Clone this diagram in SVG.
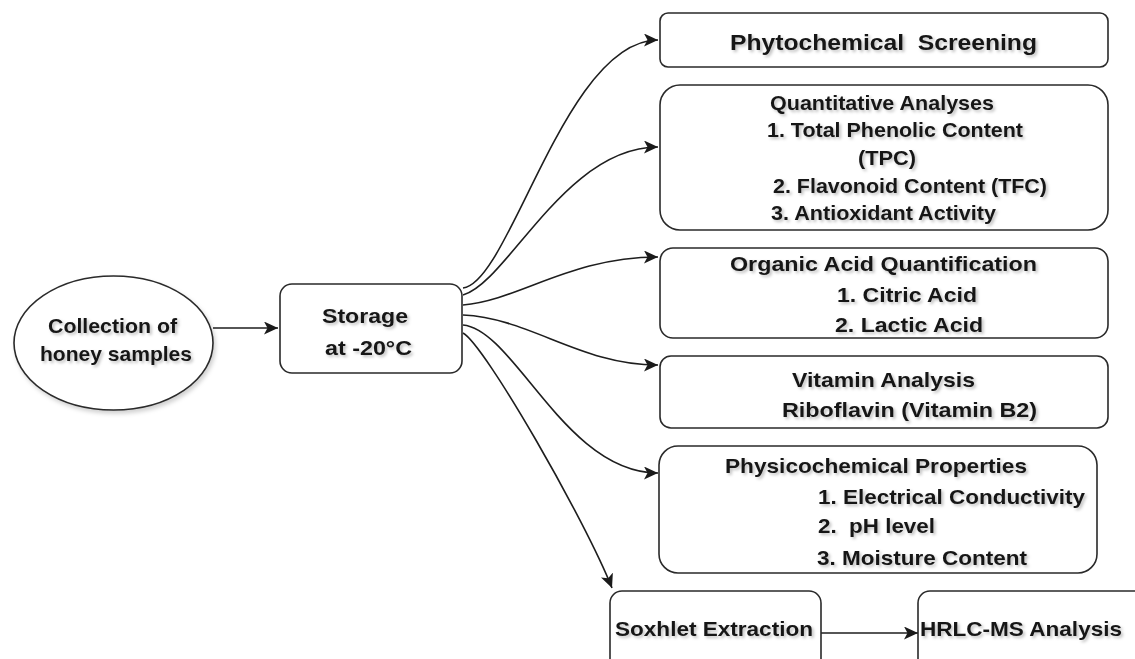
<svg xmlns="http://www.w3.org/2000/svg" width="1135" height="659" viewBox="0 0 1135 659">
<style>
.box{fill:#ffffff;stroke:#2a2a2a;stroke-width:1.6}
.t{font-family:"Liberation Sans",Arial,sans-serif;font-weight:bold;font-size:21px;fill:#161616;filter:url(#ts)}
.big{font-size:22.5px}
.edge{fill:none;stroke:#1e1e1e;stroke-width:1.6}
</style>
<defs>
<marker id="ah" markerUnits="userSpaceOnUse" markerWidth="15" markerHeight="13" refX="14" refY="6.5" orient="auto">
<path d="M0,0 L14,6.5 L0,13 L3.5,6.5 Z" fill="#1a1a1a"/>
</marker>
<filter id="ts" x="-5%" y="-20%" width="115%" height="160%">
<feDropShadow dx="2" dy="2" stdDeviation="1.5" flood-color="#000" flood-opacity="0.25"/>
</filter>
<filter id="bs" x="-10%" y="-10%" width="125%" height="130%">
<feDropShadow dx="2" dy="3" stdDeviation="2" flood-color="#000" flood-opacity="0.18"/>
</filter>
</defs>
<rect width="1135" height="659" fill="#ffffff"/>

<g id="connectors">
<path class="edge" d="M213,328 L278,328" marker-end="url(#ah)"/>
<path class="edge" d="M463,288 C510,283 565,40 658,40" marker-end="url(#ah)"/>
<path class="edge" d="M463,295 C508,282 565,147 658,147" marker-end="url(#ah)"/>
<path class="edge" d="M463,305 C520,300 570,257 658,257" marker-end="url(#ah)"/>
<path class="edge" d="M463,315 C530,318 580,365 658,365" marker-end="url(#ah)"/>
<path class="edge" d="M463,325 C515,330 565,473 658,473" marker-end="url(#ah)"/>
<path class="edge" d="M463,333 C485,345 585,520 612,588" marker-end="url(#ah)"/>
<path class="edge" d="M821,633 L918,633" stroke-width="2" marker-end="url(#ah)"/>
</g>

<g id="collection">
<ellipse class="box" cx="113.5" cy="343" rx="99.5" ry="67" filter="url(#bs)"/>
<text class="t" x="48" y="333" textLength="129" lengthAdjust="spacingAndGlyphs">Collection of</text>
<text class="t" x="40" y="361" textLength="152" lengthAdjust="spacingAndGlyphs">honey samples</text>
</g>

<g id="storage">
<rect class="box" x="280" y="284" width="182" height="89" rx="12"/>
<text class="t" x="322" y="323" textLength="86" lengthAdjust="spacingAndGlyphs">Storage</text>
<text class="t" x="325" y="355" textLength="87" lengthAdjust="spacingAndGlyphs">at -20°C</text>
</g>

<g id="phytochemical">
<rect class="box" x="660" y="13" width="448" height="54" rx="8"/>
<text class="t big" x="730" y="50" textLength="307" lengthAdjust="spacingAndGlyphs" xml:space="preserve">Phytochemical  Screening</text>
</g>

<g id="quantitative">
<rect class="box" x="660" y="85" width="448" height="145" rx="20"/>
<text class="t" x="770" y="110" textLength="224" lengthAdjust="spacingAndGlyphs">Quantitative Analyses</text>
<text class="t" x="767" y="137" textLength="256" lengthAdjust="spacingAndGlyphs">1. Total Phenolic Content</text>
<text class="t" x="858" y="165" textLength="58" lengthAdjust="spacingAndGlyphs">(TPC)</text>
<text class="t" x="773" y="193" textLength="274" lengthAdjust="spacingAndGlyphs">2. Flavonoid Content (TFC)</text>
<text class="t" x="771" y="220" textLength="225" lengthAdjust="spacingAndGlyphs">3. Antioxidant Activity</text>
</g>

<g id="organic">
<rect class="box" x="660" y="248" width="448" height="90" rx="13"/>
<text class="t" x="730" y="271" textLength="307" lengthAdjust="spacingAndGlyphs">Organic Acid Quantification</text>
<text class="t" x="837" y="302" textLength="140" lengthAdjust="spacingAndGlyphs">1. Citric Acid</text>
<text class="t" x="835" y="332" textLength="148" lengthAdjust="spacingAndGlyphs">2. Lactic Acid</text>
</g>

<g id="vitamin">
<rect class="box" x="660" y="356" width="448" height="72" rx="11"/>
<text class="t" x="792" y="387" textLength="183" lengthAdjust="spacingAndGlyphs">Vitamin Analysis</text>
<text class="t" x="782" y="417" textLength="255" lengthAdjust="spacingAndGlyphs">Riboflavin (Vitamin B2)</text>
</g>

<g id="physicochemical">
<rect class="box" x="659" y="446" width="438" height="127" rx="19"/>
<text class="t" x="725" y="473" textLength="302" lengthAdjust="spacingAndGlyphs">Physicochemical Properties</text>
<text class="t" x="818" y="504" textLength="267" lengthAdjust="spacingAndGlyphs">1. Electrical Conductivity</text>
<text class="t" x="818" y="533" textLength="117" lengthAdjust="spacingAndGlyphs" xml:space="preserve">2.  pH level</text>
<text class="t" x="817" y="565" textLength="210" lengthAdjust="spacingAndGlyphs">3. Moisture Content</text>
</g>

<g id="soxhlet">
<rect class="box" x="610" y="591" width="211" height="90" rx="12"/>
<text class="t" x="615" y="636" textLength="198" lengthAdjust="spacingAndGlyphs">Soxhlet Extraction</text>
</g>

<g id="hrlc">
<rect class="box" x="918" y="591" width="240" height="90" rx="12"/>
<text class="t" x="920" y="636" textLength="202" lengthAdjust="spacingAndGlyphs">HRLC-MS Analysis</text>
</g>
</svg>
